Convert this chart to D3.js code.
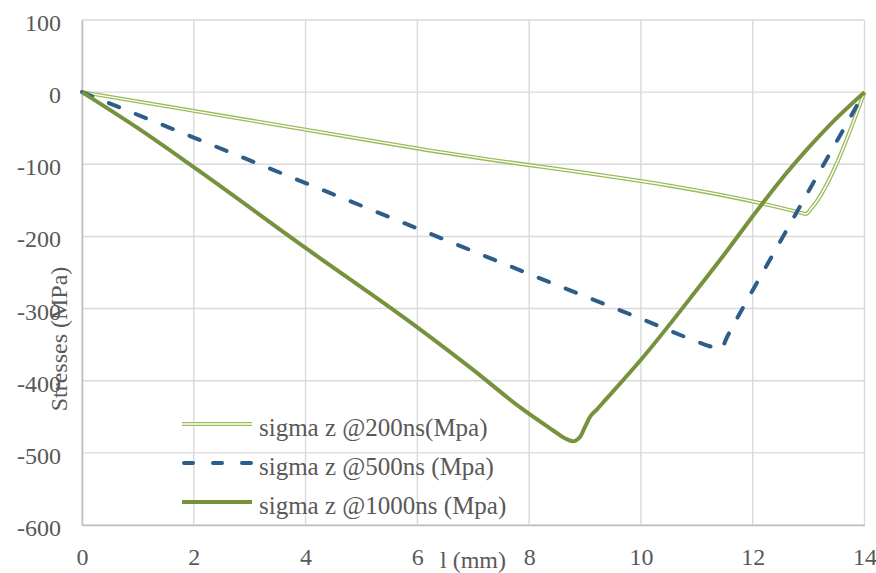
<!DOCTYPE html>
<html>
<head>
<meta charset="utf-8">
<script src="https://cdn.jsdelivr.net/npm/d3@7"></script>
<style>
  body { margin: 0; background: #fff; }
  text { font-family: "Liberation Serif", "Times New Roman", serif; fill: #595959; }
</style>
</head>
<body>
<svg id="chart" width="876" height="573"></svg>
<script>
/* stresses along l, three time steps */
//x positions (mm) and stresses (MPa)
const x200 = [0, 6, 12.85, 12.95, 13.05, 14];
const sigma200 = [0, -78, -167, -169, -161, 0];

const x500 = [0, 2, 4, 6, 8, 10, 11.3, 11.42, 11.55, 12.5, 13.3, 14];
const sigma500 = [0, -63, -126, -189, -252, -314, -354, -357, -338, -206, -96, 0];

const x1000 = [0, 1, 2, 4, 6, 7, 7.84, 8.43, 8.62, 8.78, 8.91, 9.0, 9.09, 9.21, 9.36, 10, 11, 11.5, 12, 12.5, 13, 13.5, 14];
const sigma1000 = [0, -50, -104, -216, -326, -385, -437, -469, -479, -484, -478, -464, -450, -440, -427, -371, -274, -224, -172, -122, -77, -36, 0];

const seriesNames = ["sigma z @200ns(Mpa)", "sigma z @500ns (Mpa)", "sigma z @1000ns (Mpa)"];
const xTicks = [0, 2, 4, 6, 8, 10, 12, 14];
const yTicks = [100, 0, -100, -200, -300, -400, -500, -600];

//plot box
const margin = {left: 82, top: 20, right: 11.5, bottom: 48};
const width = 876, height = 573;

const svg = d3.select("#chart");

const xScale = d3.scaleLinear()
                 .domain([0, 14])
                 .range([margin.left, width - margin.right]);
const yScale = d3.scaleLinear()
                 .domain([-600, 100])
                 .range([height - margin.bottom, margin.top]);

//gridlines
svg.append("g").selectAll("line")
   .data(yTicks)
   .enter()
   .append("line")
   .attr("x1", xScale(0)).attr("x2", xScale(14))
   .attr("y1", d => yScale(d)).attr("y2", d => yScale(d))
   .attr("stroke", "#d9d9d9")
   .attr("stroke-width", 1.4);
svg.append("g").selectAll("line")
   .data(xTicks)
   .enter()
   .append("line")
   .attr("x1", d => xScale(d)).attr("x2", d => xScale(d))
   .attr("y1", yScale(100)).attr("y2", yScale(-600))
   .attr("stroke", "#d9d9d9")
   .attr("stroke-width", 1.4);

//axes: only the lines and labels, no tick marks
//plain hyphen for negatives, like the original
const plain = d => String(d);
const yAxis = d3.axisLeft(yScale).tickValues(yTicks).tickSize(0).tickPadding(21).tickFormat(plain);
const gy = svg.append("g")
   .attr("transform", "translate(" + xScale(0) + ",0)")
   .call(yAxis);
const xAxis = d3.axisBottom(xScale).tickValues(xTicks).tickSize(0).tickPadding(23).tickFormat(plain);
const gx = svg.append("g")
   .attr("transform", "translate(0," + yScale(-600) + ")")
   .call(xAxis);
[gx, gy].forEach(g => {
  g.select(".domain").attr("stroke", "#bfbfbf").attr("stroke-width", 1.5);
  g.selectAll("text")
   .attr("font-family", "Liberation Serif, serif")
   .attr("font-size", "24px")
   .attr("fill", "#595959");
});
gy.selectAll("text").attr("dy", "0.44em");

//axis titles (they sit over the tick labels like in the original)
svg.append("text")
   .attr("text-anchor", "middle")
   .attr("font-size", "24px")
   .attr("transform", "translate(67,339) rotate(-90)")
   .text("Stresses (MPa)");
svg.append("text")
   .attr("text-anchor", "middle")
   .attr("font-size", "24px")
   .attr("x", 473)
   .attr("y", 568)
   .text("l (mm)");

//lines
const toPoints = (xs, ys) => xs.map((x, i) => [x, ys[i]]);
const line = d3.line()
               .x(d => xScale(d[0]))
               .y(d => yScale(d[1]))
               .curve(d3.curveMonotoneX);

const p200 = toPoints(x200, sigma200);
const p500 = toPoints(x500, sigma500);
const p1000 = toPoints(x1000, sigma1000);

//double line = wide green + thin white on top
svg.append("path").datum(p200)
   .attr("d", line).attr("fill", "none")
   .attr("stroke", "#9bbb59").attr("stroke-width", 4);
svg.append("path").datum(p200)
   .attr("d", line).attr("fill", "none")
   .attr("stroke", "#fff").attr("stroke-width", 1.4);

svg.append("path").datum(p500)
   .attr("d", line).attr("fill", "none")
   .attr("stroke", "#2f5d8a").attr("stroke-width", 4)
   .attr("stroke-linecap", "round")
   .attr("stroke-dasharray", "11,18");

svg.append("path").datum(p1000)
   .attr("d", line).attr("fill", "none")
   .attr("stroke", "#76923c").attr("stroke-width", 4)
   .attr("stroke-linejoin", "round");

//legend, no box
const legend = svg.append("g").attr("transform", "translate(182,424)");
seriesNames.forEach((name, i) => {
  const g = legend.append("g").attr("transform", "translate(0," + (i * 39) + ")");
  if (i === 0) {
    g.append("line").attr("x1", 0).attr("x2", 70)
     .attr("stroke", "#9bbb59").attr("stroke-width", 4);
    g.append("line").attr("x1", 0).attr("x2", 70)
     .attr("stroke", "#fff").attr("stroke-width", 1.4);
  } else if (i === 1) {
    g.append("line").attr("x1", 2).attr("x2", 70)
     .attr("stroke", "#2f5d8a").attr("stroke-width", 4)
     .attr("stroke-linecap", "round")
     .attr("stroke-dasharray", "9,20");
  } else {
    g.append("line").attr("x1", 0).attr("x2", 70)
     .attr("stroke", "#76923c").attr("stroke-width", 4);
  }
  g.append("text")
   .attr("x", 77)
   .attr("y", 12)
   .attr("font-size", "25px")
   .text(name);
});
</script>
</body>
</html>
